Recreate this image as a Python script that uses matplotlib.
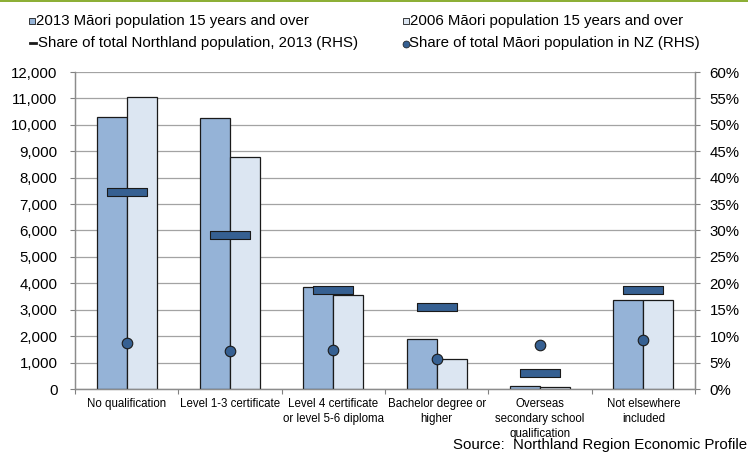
import matplotlib
matplotlib.use("Agg")
import matplotlib.pyplot as plt
from matplotlib.path import Path
from matplotlib.patches import Rectangle
from matplotlib.lines import Line2D
from matplotlib.ticker import FuncFormatter, FixedLocator
import numpy as np

plt.rcParams['font.family'] = ['Liberation Sans', 'DejaVu Sans']

categories = [
    "No qualification",
    "Level 1-3 certificate",
    "Level 4 certificate\nor level 5-6 diploma",
    "Bachelor degree or\nhigher",
    "Overseas\nsecondary school\nqualification",
    "Not elsewhere\nincluded",
]
maori_2013 = [10280, 10240, 3870, 1880, 125, 3370]
maori_2006 = [11050, 8770, 3550, 1120, 75, 3360]
share_northland_2013 = [0.373, 0.292, 0.187, 0.155, 0.031, 0.188]
share_maori_nz = [0.088, 0.071, 0.074, 0.057, 0.083, 0.093]

left_ticks = list(range(0, 12001, 1000))
right_ticks = [i / 100 for i in range(0, 61, 5)]

C2013 = "#95B3D7"
C2006 = "#DCE6F2"
CMARK = "#366092"
EDGE = "#1a1a1a"
GRID = "#A3A3A3"

W, H = 748, 461
fig = plt.figure(figsize=(W / 100, H / 100), dpi=100)

def fx(px):
    return px / W

def fy(py):
    return 1 - py / H

# top accent rule
fig.add_artist(Rectangle((0, fy(2.5)), 1, 2.5 / H, transform=fig.transFigure,
                         facecolor="#8DAF36", edgecolor="none"))

ax = fig.add_axes([fx(75), fy(389), fx(695) - fx(75), fy(72) - fy(389)])
ax2 = ax.twinx()

x = np.arange(len(categories))
bw = 0.29
ax.bar(x - bw / 2, maori_2013, width=bw, color=C2013, edgecolor=EDGE, linewidth=0.9, zorder=3)
ax.bar(x + bw / 2, maori_2006, width=bw, color=C2006, edgecolor=EDGE, linewidth=0.9, zorder=3)

# wide flat marker for the Northland share
dash = Path([(-1, -0.19), (1, -0.19), (1, 0.19), (-1, 0.19), (-1, -0.19)],
            [Path.MOVETO, Path.LINETO, Path.LINETO, Path.LINETO, Path.CLOSEPOLY])
ax2.plot(x, share_northland_2013, linestyle="none", marker=dash, markersize=29,
         markerfacecolor=CMARK, markeredgecolor=EDGE, markeredgewidth=0.8, zorder=4)
ax2.plot(x, share_maori_nz, linestyle="none", marker="o", markersize=7.6,
         markerfacecolor=CMARK, markeredgecolor=EDGE, markeredgewidth=0.8, zorder=5)

ax.set_xlim(-0.5, len(categories) - 0.5)
ax.set_ylim(0, 12000)
ax2.set_ylim(0, 0.60)
ax.yaxis.set_major_locator(FixedLocator(left_ticks))
ax2.yaxis.set_major_locator(FixedLocator(right_ticks))
ax.yaxis.set_major_formatter(FuncFormatter(lambda v, p: f"{v:,.0f}"))
ax2.yaxis.set_major_formatter(FuncFormatter(lambda v, p: f"{v * 100:.0f}%"))

ax.set_xticks(x)
ax.set_xticklabels(categories, fontsize=8.3, linespacing=1.35)
ax.set_xticks(np.arange(-0.5, len(categories)), minor=True)
ax.tick_params(axis="x", which="major", length=0, pad=6.5)
ax.tick_params(axis="x", which="minor", length=3.5, width=0.8, color="#808080")
ax.tick_params(axis="y", length=3.6, width=0.8, color="#808080", labelsize=10.8, pad=9)
ax2.tick_params(axis="y", length=3.6, width=0.8, color="#808080", labelsize=10.8, pad=7)

ax.grid(axis="y", color=GRID, linewidth=0.9, zorder=0)
ax.set_axisbelow(True)
for a in (ax, ax2):
    a.spines["top"].set_visible(False)
    for s in ("left", "right", "bottom"):
        a.spines[s].set_color("#8C8C8C")
        a.spines[s].set_linewidth(0.9)

# legend, two columns
fs_leg = 10.8
def leg_text(px, py, s):
    fig.text(fx(px), fy(py), s, fontsize=fs_leg, va="center", ha="left")

fig.add_artist(Rectangle((fx(29), fy(24)), 6 / W, 6 / H, transform=fig.transFigure,
                         facecolor=C2013, edgecolor=EDGE, linewidth=0.6))
leg_text(36, 21, "2013 M\u0101ori population 15 years and over")
fig.add_artist(Line2D([fx(30), fx(36)], [fy(43), fy(43)], transform=fig.transFigure,
                      color="#1a1a1a", linewidth=2.0))
leg_text(38, 43, "Share of total Northland population, 2013 (RHS)")
fig.add_artist(Rectangle((fx(403), fy(24)), 6 / W, 6 / H, transform=fig.transFigure,
                         facecolor=C2006, edgecolor=EDGE, linewidth=0.6))
leg_text(410, 21, "2006 M\u0101ori population 15 years and over")
fig.add_artist(Line2D([fx(406)], [fy(44)], transform=fig.transFigure, marker="o",
                      markersize=5, markerfacecolor=CMARK, markeredgecolor=EDGE,
                      markeredgewidth=0.5))
leg_text(409, 43, "Share of total M\u0101ori population in NZ (RHS)")

fig.text(fx(747), fy(449), "Source:  Northland Region Economic Profile",
         fontsize=10.8, ha="right", va="baseline")

fig.savefig("out.png", dpi=100)
